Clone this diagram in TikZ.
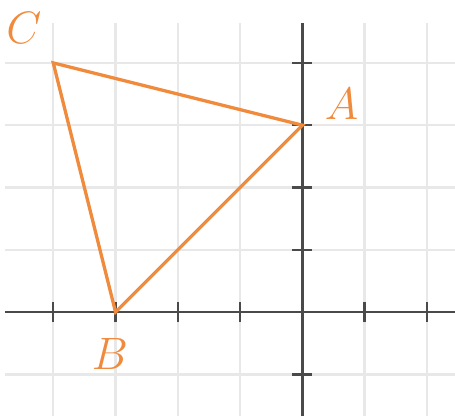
\documentclass[tikz,border=0pt]{standalone}
\usetikzlibrary{positioning}
\definecolor{triorange}{HTML}{F08A3C}
\definecolor{gridgray}{HTML}{E8E8E8}
\definecolor{axisgray}{HTML}{4A4A4A}

\begin{document}
\begin{tikzpicture}[
  x=1cm, y=1cm,
  gridline/.style={gridgray, line width=1.1pt},
  axisline/.style={axisgray, line width=1.1pt},
  tick/.style    ={axisgray, line width=1.1pt},
  side/.style    ={triorange, line width=1.5pt, line join=miter},
  vlabel/.style  ={triorange, font=\fontsize{20}{20}\selectfont, inner sep=0pt},
]
  \useasboundingbox (-4.855,-1.67) rectangle (2.45,5.01);
  % grid
  \foreach \x in {-4,...,2} \draw[gridline] (\x,-1.67) -- (\x,4.64);
  \foreach \y in {-1,...,4} \draw[gridline] (-4.775,\y) -- (2.45,\y);
  % axes and ticks
  \draw[axisline] (-4.775,0) -- (2.45,0);
  \draw[axisline] (0,-1.67) -- (0,4.64);
  \foreach \x in {-4,-3,-2,-1,1,2} \draw[tick] (\x,-0.16) -- (\x,0.16);
  \foreach \y in {-1,1,2,3,4} \draw[tick] (-0.16,\y) -- (0.16,\y);
  % triangle
  \coordinate (A) at (0,3);
  \coordinate (B) at (-3,0);
  \coordinate (C) at (-4,4);
  \draw[side] (A) -- (B) -- (C) -- cycle;
  \node[vlabel] (lA) at (0.63,3.34)  {$A$};
  \node[vlabel] (lB) at (-3.09,-0.67) {$B$};
  \node[vlabel] (lC) at (-4.47,4.56) {$C$};
\end{tikzpicture}
\end{document}
